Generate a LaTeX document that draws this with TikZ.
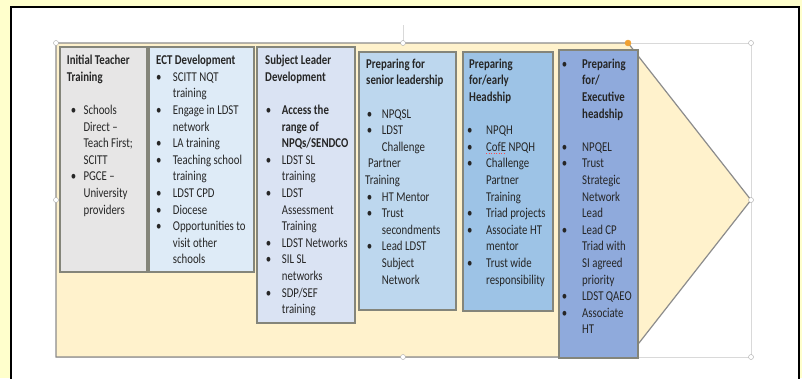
\documentclass[tikz,border=0pt]{standalone}
\usepackage{fontspec}
\setmainfont{Carlito}[FakeStretch=0.8]
\definecolor{frameyellow}{HTML}{FFFFCC}
\definecolor{arrowfill}{HTML}{FFF2CC}
\definecolor{arrowline}{HTML}{8C8C8C}
\definecolor{selline}{HTML}{D9D9D9}
\definecolor{handleline}{HTML}{A6A6A6}
\definecolor{handleorange}{HTML}{F0A030}
\definecolor{boxline}{HTML}{84857A}
\definecolor{txt}{HTML}{262626}
\definecolor{ittfill}{HTML}{E7E6E6}
\definecolor{ectfill}{HTML}{DEEBF7}
\definecolor{slfill}{HTML}{DAE3F3}
\definecolor{seniorfill}{HTML}{BDD7EE}
\definecolor{headfill}{HTML}{9DC3E6}
\definecolor{execfill}{HTML}{8FAADC}
\newlength\bulpos
\newlength\itmpos
\newcommand\itmbul{\hspace*{\bulpos}\makebox[\dimexpr\itmpos-\bulpos\relax][l]{\textbullet}}
\newcommand\itmcont{\hspace*{\itmpos}}
\begin{document}
\begin{tikzpicture}[x=1pt,y=-1pt,
    stage/.style={draw=boxline, line width=1.3pt},
    stagetext/.style={anchor=north west, inner sep=0pt, align=left, text=txt,
        font=\fontsize{13.5}{16.6}\selectfont},
    listat/.code 2 args={\setlength{\bulpos}{#1}\setlength{\itmpos}{#2}},
    handle/.style={circle, draw=handleline, fill=white, inner sep=0pt, minimum size=5pt}]
    \useasboundingbox (0,0) rectangle (802,378);
    % frame
    \fill[frameyellow] (0,0) rectangle (802,378);
    \draw[fill=white, line width=1.2pt] (11,7) rectangle (799,390);
    % selection box and the arrow
    \draw[selline, line width=1pt] (56,43) rectangle (751,357);
    \draw[selline, line width=1pt] (403,25) -- (403,43);
    \draw[arrowline, fill=arrowfill, line width=1.2pt]
        (56,43) -- (628,43) -- (751,200) -- (628,357) -- (56,357) -- cycle;
    % stages
    \draw[stage, fill=ittfill] (60,47) rectangle (147,272);
    \draw[stage, fill=ectfill] (149,47) rectangle (254,272);
    \draw[stage, fill=slfill] (257,47) rectangle (355,323);
    \draw[stage, fill=seniorfill] (359,52) rectangle (456,310);
    \draw[stage, fill=headfill] (463,52) rectangle (553,311);
    \draw[stage, fill=execfill] (559,50) rectangle (638,358);
    % texts
    \node[stagetext, listat={4pt}{16.7pt}] (itt) at (66.7,52.9) {%
        \strut\textbf{Initial Teacher}\\
        \textbf{Training}\\
        \mbox{}\\
        \itmbul Schools\\
        \itmcont Direct –\\
        \itmcont Teach First;\\
        \itmcont SCITT\\
        \itmbul PGCE –\\
        \itmcont University\\
        \itmcont providers};
    \node[stagetext, listat={0pt}{16.7pt}] (ect) at (156,52.9) {%
        \strut\textbf{ECT Development}\\
        \itmbul SCITT NQT\\
        \itmcont training\\
        \itmbul Engage in LDST\\
        \itmcont network\\
        \itmbul LA training\\
        \itmbul Teaching school\\
        \itmcont training\\
        \itmbul LDST CPD\\
        \itmbul Diocese\\
        \itmbul Opportunities to\\
        \itmcont visit other\\
        \itmcont schools};
    \node[stagetext, listat={0.6pt}{16.7pt}] (sl) at (265,52.9) {%
        \strut\textbf{Subject Leader}\\
        \textbf{Development}\\
        \mbox{}\\
        \itmbul\textbf{Access the}\\
        \itmcont\textbf{range of}\\
        \itmcont\textbf{NPQs/SENDCO}\\
        \itmbul LDST SL\\
        \itmcont training\\
        \itmbul LDST\\
        \itmcont Assessment\\
        \itmcont Training\\
        \itmbul LDST Networks\\
        \itmbul SIL SL\\
        \itmcont networks\\
        \itmbul SDP/SEF\\
        \itmcont training};
    \node[stagetext, listat={1.6pt}{16.7pt}] (senior) at (365,56.4) {%
        \strut\hspace*{1pt}\textbf{Preparing for}\\
        \hspace*{1pt}\textbf{senior leadership}\\
        \mbox{}\\
        \itmbul NPQSL\\
        \itmbul LDST\\
        \itmcont Challenge\\
        \hspace*{3pt}Partner\\
        Training\\
        \itmbul HT Mentor\\
        \itmbul Trust\\
        \itmcont secondments\\
        \itmbul Lead LDST\\
        \itmcont Subject\\
        \itmcont Network};
    \node[stagetext, listat={0pt}{19pt}] (head) at (467,56.4) {%
        \strut\hspace*{2pt}\textbf{Preparing}\\
        \hspace*{2pt}\textbf{for/early}\\
        \hspace*{2pt}\textbf{Headship}\\
        \mbox{}\\
        \itmbul NPQH\\
        \itmbul CofE NPQH\\
        \itmbul Challenge\\
        \itmcont Partner\\
        \itmcont Training\\
        \itmbul Triad projects\\
        \itmbul Associate HT\\
        \itmcont mentor\\
        \itmbul Trust wide\\
        \itmcont responsibility};
    \node[stagetext, listat={0pt}{20.4pt}] (exec) at (561.6,56.4) {%
        \strut\itmbul\textbf{Preparing}\\
        \itmcont\textbf{for/}\\
        \itmcont\textbf{Executive}\\
        \itmcont\textbf{headship}\\
        \mbox{}\\
        \itmbul NPQEL\\
        \itmbul Trust\\
        \itmcont Strategic\\
        \itmcont Network\\
        \itmcont Lead\\
        \itmbul Lead CP\\
        \itmcont Triad with\\
        \itmcont SI agreed\\
        \itmcont priority\\
        \itmbul LDST QAEO\\
        \itmbul Associate\\
        \itmcont HT};
    % spelling mark under CofE
    \draw[red!70, line width=0.5pt, dotted] (486,153) -- (504,153);
    % handles
    \foreach \hx/\hy in {56/43, 403/43, 751/43, 56/200, 751/200, 403/357, 751/357}
        \node[handle] at (\hx,\hy) {};
    \node[handle, draw=handleorange, fill=handleorange, minimum size=6pt] (adjust) at (628,43) {};
\end{tikzpicture}
\end{document}
